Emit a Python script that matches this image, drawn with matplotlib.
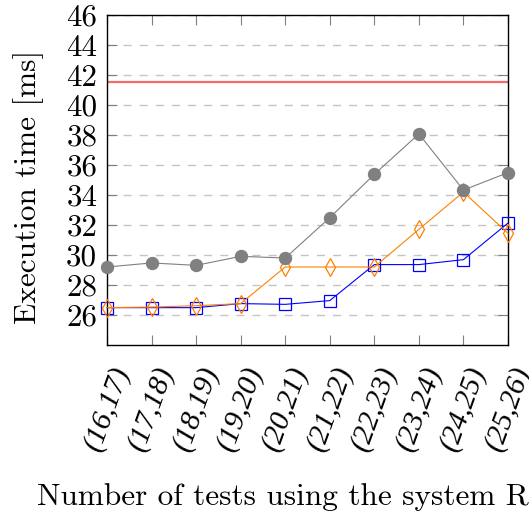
import matplotlib
matplotlib.use("Agg")
import matplotlib.pyplot as plt
import numpy as np

# ---- data ----
categories = ['(16,17)', '(17,18)', '(18,19)', '(19,20)', '(20,21)',
              '(21,22)', '(22,23)', '(23,24)', '(24,25)', '(25,26)']
gray_vals = [29.2, 29.47, 29.31, 29.91, 29.8, 32.49, 35.38, 38.07, 34.33, 35.49]
orange_vals = [26.49, 26.53, 26.62, 26.76, 29.2, 29.2, 29.2, 31.71, 34.2, 31.44]
blue_vals = [26.49, 26.49, 26.49, 26.76, 26.71, 26.96, 29.36, 29.36, 29.69, 32.13]
red_level = 41.55
y_ticks = [26, 28, 30, 32, 34, 36, 38, 40, 42, 44, 46]
y_label = 'Execution time [ms]'
x_label = 'Number of tests using the system R'

plt.rcParams['font.family'] = 'serif'
plt.rcParams['font.serif'] = ['cmr10']
plt.rcParams['mathtext.fontset'] = 'cm'
plt.rcParams['axes.formatter.use_mathtext'] = True
plt.rcParams['axes.unicode_minus'] = False

W, H = 529, 518
fig = plt.figure(figsize=(W / 100, H / 100), dpi=100)
L, R, T, B = 107, 508, 15, 345
ax = fig.add_axes([L / W, (H - B) / H, (R - L) / W, (B - T) / H])

x = np.arange(len(categories))

ax.axhline(red_level, color='#f46a6a', lw=1.6, zorder=2)
ax.plot(x, blue_vals, color='#0000ff', lw=0.8, marker='s', ms=8,
        mfc='none', mec='#0000ff', mew=0.9, zorder=3, clip_on=False)
ax.plot(x, orange_vals, color='#ff8000', lw=0.8, marker='d', ms=9,
        mfc='none', mec='#ff8000', mew=0.9, zorder=4, clip_on=False)
ax.plot(x, gray_vals, color='#808080', lw=0.8, marker='o', ms=8.6,
        mfc='#808080', mec='#808080', zorder=5, clip_on=False)

ax.set_xlim(0, len(categories) - 1)
ax.set_ylim(24, 46)
ax.set_yticks(y_ticks)
ax.set_yticklabels([str(v) for v in y_ticks], fontsize=22.3)
ax.set_xticks(x)
ax.set_xticklabels(categories, rotation=70, ha='center', va='top',
                   fontsize=21.5, family='Liberation Serif', style='italic')

ax.yaxis.grid(True, color='#c4c4c4', lw=1.0, linestyle=(0, (5.8, 5.8)))
ax.set_axisbelow(True)

ax.tick_params(axis='y', direction='in', length=7, width=0.8, color='#808080',
               left=True, right=True, pad=7)
ax.tick_params(axis='x', direction='in', length=7, width=0.8, color='#808080',
               bottom=True, top=True, pad=13)
for s in ax.spines.values():
    s.set_linewidth(1.0)
    s.set_color('black')

ax.set_ylabel(y_label, fontsize=22.5)
ax.yaxis.set_label_coords((44 - L) / (R - L), 0.5 - 7 / (B - T))
ax.set_xlabel(x_label, fontsize=22.5, ha='left', va='baseline')
ax.xaxis.set_label_coords((37 - L) / (R - L), (B - 505) / (B - T))

fig.savefig('out.png', dpi=100)
